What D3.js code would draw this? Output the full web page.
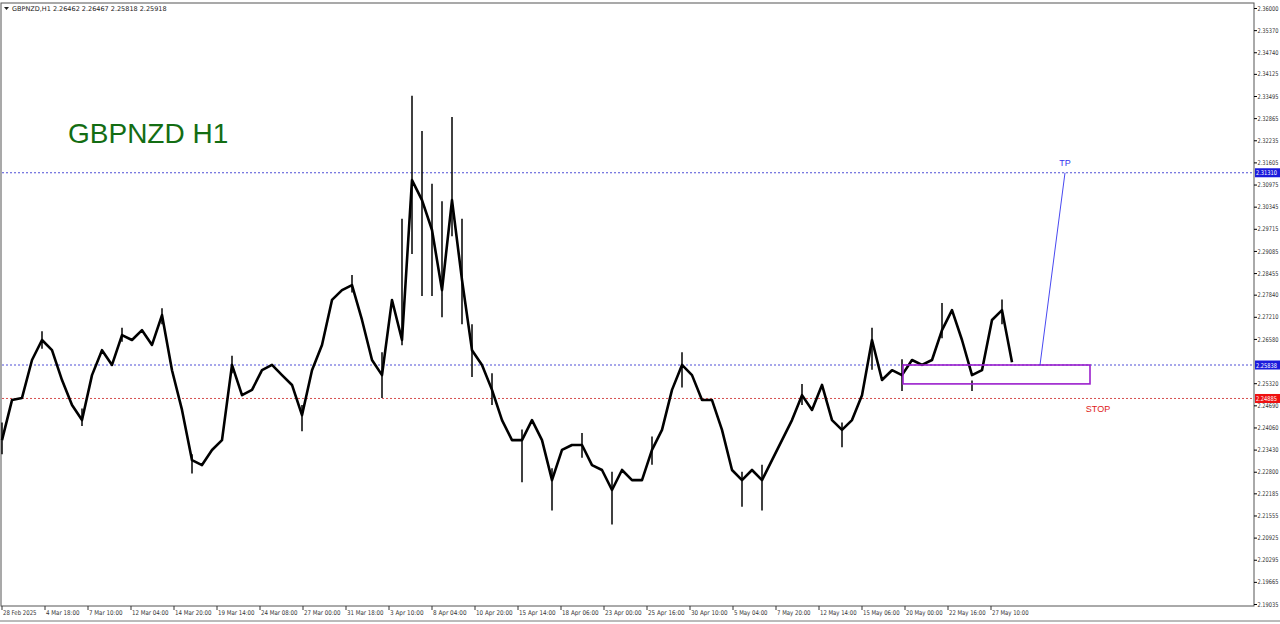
<!DOCTYPE html>
<html><head><meta charset="utf-8">
<script src="https://cdn.jsdelivr.net/npm/d3@7"></script>
<style>body{margin:0;background:#fff}svg{display:block}text{font-family:"DejaVu Sans",sans-serif}</style>
</head><body><svg id="c" width="1280" height="624"></svg>
<script>
const closes=[2.2370,2.2484,2.2490,2.2598,2.2655,2.2626,2.2541,2.2470,2.2427,2.2555,2.2626,2.2584,2.2669,2.2655,2.2683,2.2641,2.2726,2.2569,2.2456,2.2313,2.2299,2.2342,2.2370,2.2584,2.2498,2.2513,2.2569,2.2584,2.2555,2.2527,2.2441,2.2569,2.2641,2.2769,2.2797,2.2811,2.2712,2.2598,2.2555,2.2769,2.2655,2.3110,2.3053,2.2968,2.2797,2.3053,2.2826,2.2626,2.2584,2.2513,2.2427,2.2370,2.2370,2.2427,2.2370,2.2256,2.2342,2.2356,2.2356,2.2299,2.2285,2.2228,2.2285,2.2256,2.2256,2.2342,2.2399,2.2513,2.2584,2.2555,2.2484,2.2484,2.2399,2.2285,2.2256,2.2285,2.2256,2.2313,2.2370,2.2427,2.2498,2.2456,2.2527,2.2427,2.2399,2.2427,2.2498,2.2655,2.2541,2.2569,2.2555,2.2598,2.2584,2.2598,2.2683,2.2740,2.2655,2.2555,2.2569,2.2712,2.2740,2.25918];
const spikes=[[0,2.2420,2.2330],[4,2.2680,2.2630],[8,2.2460,2.2410],[12,2.2690,2.2650],[16,2.2745,2.2700],[19,2.2330,2.2275],[23,2.2610,2.2560],[30,2.2470,2.2395],[35,2.2840,2.2790],[38,2.2620,2.2490],[40,2.3000,2.2640],[41,2.3350,2.2900],[42,2.3250,2.2780],[43,2.3100,2.2780],[44,2.3050,2.2720],[45,2.3290,2.2950],[46,2.3000,2.2700],[47,2.2700,2.2550],[49,2.2560,2.2470],[52,2.2400,2.2250],[55,2.2290,2.2170],[58,2.2390,2.2320],[61,2.2280,2.2130],[65,2.2380,2.2300],[68,2.2620,2.2520],[74,2.2280,2.2180],[76,2.2300,2.2170],[80,2.2530,2.2470],[84,2.2420,2.2350],[87,2.2690,2.2570],[90,2.2600,2.2510],[94,2.2760,2.2660],[97,2.2540,2.2510],[100,2.2770,2.2700]];
const priceTicks=[2.36000,2.35370,2.34740,2.34125,2.33495,2.32865,2.32235,2.31605,2.30975,2.30345,2.29715,2.29085,2.28455,2.27840,2.27210,2.26580,2.25320,2.24690,2.24060,2.23430,2.22800,2.22185,2.21555,2.20925,2.20295,2.19665,2.19035];
const timeLabels=["28 Feb 2025","4 Mar 18:00","7 Mar 10:00","12 Mar 04:00","14 Mar 20:00","19 Mar 14:00","24 Mar 08:00","27 Mar 00:00","31 Mar 18:00","3 Apr 10:00","8 Apr 04:00","10 Apr 20:00","15 Apr 14:00","18 Apr 06:00","23 Apr 00:00","25 Apr 16:00","30 Apr 10:00","5 May 04:00","7 May 20:00","12 May 14:00","15 May 06:00","20 May 00:00","22 May 16:00","27 May 10:00"];
const levels=[{p:2.31310,c:"#2222cc",bg:"#1a1adc"},{p:2.25838,c:"#2222cc",bg:"#1a1adc"},{p:2.24885,c:"#cc2222",bg:"#ee1111"}];
const zone={i0:90.1,i1:108.8,top:2.25838,bot:2.25300};
const tp={i0:103.8,p0:2.25838,i1:106.3,p1:2.31310};

const svg=d3.select("#c");
const y=d3.scaleLinear().domain([2.19035,2.36000]).range([604,8]);
const x=d3.scaleLinear().domain([0,100]).range([2,1002]);
svg.append("rect").attr("x",1).attr("y",3).attr("width",1253).attr("height",603).attr("fill","none").attr("stroke","#555");
levels.forEach(l=>{
 svg.append("line").attr("x1",2).attr("x2",1253).attr("y1",y(l.p)).attr("y2",y(l.p)).attr("stroke",l.c).attr("stroke-dasharray","2,2").attr("stroke-width",0.8);
});
spikes.forEach(s=>svg.append("line").attr("x1",x(s[0])).attr("x2",x(s[0])).attr("y1",y(s[1])).attr("y2",y(s[2])).attr("stroke","#000").attr("stroke-width",1.5));
svg.append("path").datum(closes).attr("d",d3.line().x((d,i)=>x(i)).y(d=>y(d))).attr("fill","none").attr("stroke","#000").attr("stroke-width",2.6).attr("stroke-linejoin","round");
svg.append("rect").attr("x",x(zone.i0)).attr("y",y(zone.top)).attr("width",x(zone.i1)-x(zone.i0)).attr("height",y(zone.bot)-y(zone.top)).attr("fill","none").attr("stroke","#9a1ecc").attr("stroke-width",1.6);
svg.append("line").attr("x1",x(tp.i0)).attr("y1",y(tp.p0)).attr("x2",x(tp.i1)).attr("y2",y(tp.p1)).attr("stroke","#3333ee").attr("stroke-width",0.9);
svg.append("text").attr("x",x(tp.i1)).attr("y",y(tp.p1)-7).attr("text-anchor","middle").attr("font-size",9).attr("fill","#3333ee").style("font-family","Liberation Sans").text("TP");
svg.append("text").attr("x",1098).attr("y",y(2.24885)+14).attr("text-anchor","middle").attr("font-size",9).attr("fill","#e02020").style("font-family","Liberation Sans").text("STOP");
svg.append("text").attr("x",68).attr("y",143).attr("font-size",28).attr("fill","#136d13").style("font-family","Liberation Sans").text("GBPNZD H1");
const ya=svg.append("g").attr("transform","translate(1254,0)").call(d3.axisRight(y).tickValues(priceTicks).tickSize(3).tickFormat(d3.format(".5f")));
ya.select(".domain").remove();
ya.selectAll("text").attr("font-size",6.5).attr("fill","#333").attr("x",3.5).attr("textLength",21).attr("lengthAdjust","spacingAndGlyphs");
levels.forEach(l=>{
 svg.append("rect").attr("x",1255).attr("y",y(l.p)-4.5).attr("width",25).attr("height",9).attr("fill",l.bg);
 svg.append("text").attr("x",1256).attr("y",y(l.p)+2.5).attr("font-size",6.5).attr("fill","#fff").attr("textLength",21).attr("lengthAdjust","spacingAndGlyphs").text(l.p.toFixed(5));
});
const g=svg.append("g");
timeLabels.forEach((t,k)=>{
 const px=x(k*4.3);
 g.append("line").attr("x1",px).attr("x2",px).attr("y1",606).attr("y2",610).attr("stroke","#333");
 g.append("text").attr("x",px+1).attr("y",615).attr("font-size",6.5).attr("fill","#333").attr("textLength",t.length*3.05).attr("lengthAdjust","spacingAndGlyphs").text(t);
});
svg.append("text").attr("x",12).attr("y",11).attr("font-size",6.5).attr("fill","#222").text("GBPNZD,H1  2.26462 2.26467 2.25818 2.25918");
svg.append("path").attr("d","M4,7 L9,7 L6.5,10 Z").attr("fill","#222");
svg.append("line").attr("x1",0).attr("x2",1280).attr("y1",621).attr("y2",621).attr("stroke","#777");
</script></body></html>
